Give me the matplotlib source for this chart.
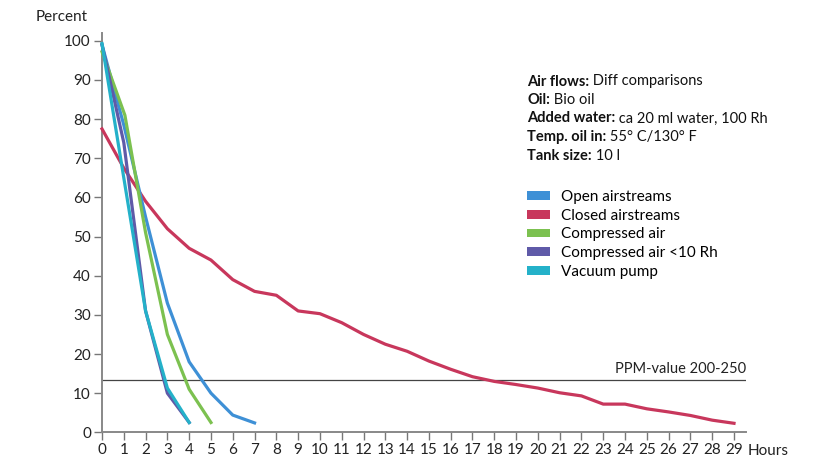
import matplotlib
matplotlib.use("Agg")
from matplotlib import pyplot as plt
from matplotlib.patches import Patch

plt.rcParams['font.family'] = ['Lato', 'DejaVu Sans']

# values
open_hours = [0, 1, 2, 3, 4, 5, 6, 7]
open_pct = [99, 78.5, 55, 33, 18, 10, 4.4, 2.4]

closed_hours = list(range(0, 30))
closed_pct = [77.5, 67.5, 59, 52, 47, 44, 39, 36, 35, 31, 30.3, 28, 25, 22.5, 20.7,
              18.2, 16.1, 14.2, 13, 12.2, 11.3, 10.1, 9.3, 7.2, 7.2, 6.0, 5.2, 4.3, 3.1, 2.3]

compressed_hours = [0, 1.05, 2, 3, 4, 5]
compressed_pct = [97.2, 81, 51, 25, 11, 2.5]

dry_hours = [0, 1, 2, 3, 4]
dry_pct = [99, 74, 31, 10, 2.5]

vacuum_hours = [0, 1, 2, 3, 4]
vacuum_pct = [99.3, 65, 31, 11.3, 2.5]

series_names = ['Open airstreams', 'Closed airstreams', 'Compressed air',
                'Compressed air <10 Rh', 'Vacuum pump']
series_colors = ['#3e90d6', '#c8375c', '#7cc150', '#5f5aa8', '#24b1c9']

ppm_level = 13.3
hour_ticks = list(range(0, 30))
pct_ticks = list(range(0, 101, 10))

info_lines = [
    ('Air flows:', ' Diff comparisons'),
    ('Oil:', ' Bio oil'),
    ('Added water:', ' ca 20 ml water, 100 Rh'),
    ('Temp. oil in:', ' 55° C/130° F'),
    ('Tank size:', ' 10 l'),
]

fig = plt.figure(figsize=(8.24, 4.61), dpi=100)
ax = fig.add_axes([102 / 824, 1 - 432.3 / 461, 644 / 824, 399.3 / 461])

lw = 2.3
ax.plot(closed_hours, closed_pct, color=series_colors[1], lw=lw, clip_on=False, zorder=3)
ax.plot(open_hours, open_pct, color=series_colors[0], lw=lw, clip_on=False, zorder=4)
ax.plot(compressed_hours, compressed_pct, color=series_colors[2], lw=lw, clip_on=False, zorder=5)
ax.plot(dry_hours, dry_pct, color=series_colors[3], lw=lw, clip_on=False, zorder=6)
ax.plot(vacuum_hours, vacuum_pct, color=series_colors[4], lw=lw, clip_on=False, zorder=7)

ax.axhline(ppm_level, color='#444444', lw=0.9, zorder=2)
ax.text(29.55, ppm_level + 1.0, 'PPM-value 200-250', ha='right', va='bottom',
        fontsize=10.5, color='#222222')

ax.set_xlim(0, 29.55)
ax.set_ylim(0, 102)
ax.set_xticks(hour_ticks)
ax.set_yticks(pct_ticks)
ax.tick_params(axis='both', direction='out', length=6, width=1, color='#777777',
               labelsize=11, labelcolor='#222222', pad=2)

for side in ['top', 'right']:
    ax.spines[side].set_visible(False)
for side in ['left', 'bottom']:
    ax.spines[side].set_color('#888888')
    ax.spines[side].set_linewidth(1.4)

fig.text(88 / 824, 1 - 17 / 461, 'Percent', ha='right', va='center', fontsize=11, color='#222222')
fig.text(748 / 824, 1 - 451 / 461, 'Hours', ha='left', va='center', fontsize=11, color='#222222')

# info block, bold key followed by regular value
y0 = 81.5
for i, (key, rest) in enumerate(info_lines):
    t = fig.text(527 / 824, 1 - (y0 + i * 18.5) / 461, key, ha='left', va='center',
                 fontsize=10.5, fontweight='bold', color='#111111')
    ax.annotate(rest, xy=(1, 0), xycoords=t, ha='left', va='bottom',
                fontsize=10.5, color='#111111')

handles = [Patch(facecolor=c, edgecolor='none') for c in series_colors]
ax.legend(handles, series_names, loc='upper left', bbox_to_anchor=(527 / 824, 1 - 190 / 461),
          bbox_transform=fig.transFigure, frameon=False, fontsize=11, borderpad=0,
          borderaxespad=0, handlelength=1.5, handleheight=0.5, handletextpad=0.7,
          labelspacing=0.31)

fig.savefig('out.png', dpi=100)
